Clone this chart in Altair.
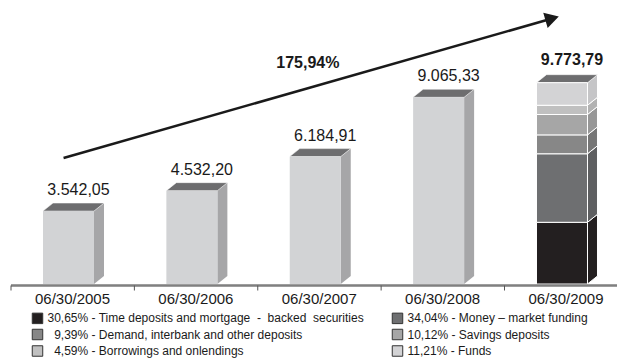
import math
import altair as alt
import pandas as pd

# ---------------- data ----------------
dates = ["06/30/2005", "06/30/2006", "06/30/2007", "06/30/2008", "06/30/2009"]
totals = [3542.05, 4532.20, 6184.91, 9065.33, 9773.79]

# composition of the 2009 bar (bottom to top)
seg_names = [
    "Time deposits and mortgage  -  backed  securities",
    "Money \u2013 market funding",
    "Demand, interbank and other deposits",
    "Savings deposits",
    "Borrowings and onlendings",
    "Funds",
]
seg_pcts = [30.65, 34.04, 9.39, 10.12, 4.59, 11.21]

# ---------------- style ----------------
seg_front = ["#231f20", "#6e6f71", "#878787", "#a6a6a6", "#c0c0c0", "#d3d3d5"]
seg_side = ["#231f20", "#5e5f61", "#767676", "#979797", "#b2b2b2", "#c5c5c7"]
BAR_FRONT, BAR_SIDE, BAR_TOP = "#d2d3d5", "#a6a6a8", "#6d6d6f"
FONT = "Liberation Sans"

# scales (pixel layout of the plot)
X_DOM, X_RNG = [-0.466, 4.46], [11, 618.75]
Y_DOM, Y_RNG = [0, 9773.79], [284, 82.7]
px_per_idx = (X_RNG[1] - X_RNG[0]) / (X_DOM[1] - X_DOM[0])
px_per_val = (Y_RNG[0] - Y_RNG[1]) / (Y_DOM[1] - Y_DOM[0])
HALF_W = 25.5 / px_per_idx       # half width of the front face
DEPTH_X = 10 / px_per_idx        # 3D depth (horizontal)
DEPTH_Y = 8 / px_per_val         # 3D depth (vertical)
TICK_SHIFT = -0.466

# annotation arrow (data space)
arrow_x = [-0.04, 3.92]
arrow_y = [6120, 12890]
growth_pos = (1.94, 10490)

X = alt.Scale(domain=X_DOM, range=X_RNG, nice=False, zero=False)
Y = alt.Scale(domain=Y_DOM, range=Y_RNG, nice=False, zero=False)


def br(v):
    s = f"{v:,.2f}"
    return s.replace(",", "X").replace(".", ",").replace("X", ".")


def pct_label(p, name):
    s = f"{p:.2f}".replace(".", ",")
    if p < 10:
        s = "\u200b\u00a0\u00a0" + s
    return f"{s}% - {name}".replace("  ", " \u00a0")


legend_labels = [pct_label(p, n) for p, n in zip(seg_pcts, seg_names)]
# legend fills column by column: put the left column first
legend_order = [0, 2, 4, 1, 3, 5]

# ---------------- build tables ----------------
segs = []
for i, t in enumerate(totals):
    if i < len(totals) - 1:
        segs.append(dict(key=f"b{i}", i=i, lo=0.0, hi=t, front=BAR_FRONT, side=BAR_SIDE,
                     stroke="transparent", name="", top=True, last=False))
    else:
        lo = 0.0
        for k, p in enumerate(seg_pcts):
            hi = lo + p / 100.0 * t
            segs.append(dict(key=f"s{k}", i=i, lo=lo, hi=hi, front=seg_front[k], side=seg_side[k],
                             stroke="white", name=legend_labels[k], top=(k == len(seg_pcts) - 1), last=True))
            lo = hi
seg_df = pd.DataFrame(segs)
seg_df["xl"] = seg_df["i"] - HALF_W
seg_df["xr"] = seg_df["i"] + HALF_W

side_rows, top_rows = [], []
for r in segs:
    side_rows.append(dict(key=r["key"], x=r["i"] + HALF_W, yt=r["hi"], yb=r["lo"], side=r["side"], stroke=r["stroke"]))
    side_rows.append(dict(key=r["key"], x=r["i"] + HALF_W + DEPTH_X, yt=r["hi"] + DEPTH_Y, yb=r["lo"] + DEPTH_Y,
                          side=r["side"], stroke=r["stroke"]))
    if r["top"]:
        top_rows.append(dict(key=r["key"], y=r["hi"], xl=r["i"] - HALF_W, xr=r["i"] + HALF_W))
        top_rows.append(dict(key=r["key"], y=r["hi"] + DEPTH_Y, xl=r["i"] - HALF_W + DEPTH_X, xr=r["i"] + HALF_W + DEPTH_X))
side_df = pd.DataFrame(side_rows)
top_df = pd.DataFrame(top_rows)

lab_df = pd.DataFrame(dict(i=list(range(len(totals))), date=dates,
                           ytop=[t + DEPTH_Y for t in totals], txt=[br(t) for t in totals],
                           tick=[k + TICK_SHIFT for k in range(len(totals))],
                           last=[k == len(totals) - 1 for k in range(len(totals))]))

arrow_df = pd.DataFrame(dict(x=arrow_x, y=arrow_y))
growth = (totals[-1] / totals[0] - 1) * 100
growth_df = pd.DataFrame(dict(x=[growth_pos[0]], y=[growth_pos[1]], txt=[f"{growth:.2f}".replace(".", ",") + "%"]))

# arrow angle in screen space
dxp = (arrow_x[1] - arrow_x[0]) * px_per_idx
dyp = (arrow_y[1] - arrow_y[0]) * px_per_val
ang = (360 - math.degrees(math.atan2(dyp, dxp))) % 360

# ---------------- layers ----------------
side = alt.Chart(side_df).mark_area(strokeWidth=1).encode(
    x=alt.X("x:Q", scale=X, axis=None),
    y=alt.Y("yt:Q", scale=Y, axis=None, stack=None),
    y2="yb:Q",
    detail="key:N",
    fill=alt.Fill("side:N", scale=None),
    stroke=alt.Stroke("stroke:N", scale=None),
)

top = alt.Chart(top_df).mark_area(orient="horizontal", color=BAR_TOP, stroke="white", strokeWidth=0.5).encode(
    y=alt.Y("y:Q", scale=Y, axis=None),
    x=alt.X("xl:Q", scale=X, axis=None, stack=None),
    x2="xr:Q",
    detail="key:N",
)

front_gray = alt.Chart(seg_df).transform_filter("!datum.last").mark_rect().encode(
    x=alt.X("xl:Q", scale=X, axis=None),
    x2="xr:Q",
    y=alt.Y("lo:Q", scale=Y, axis=None),
    y2="hi:Q",
    fill=alt.Fill("front:N", scale=None),
)

front_stack = alt.Chart(seg_df).transform_filter("datum.last").mark_rect(stroke="white", strokeWidth=1).encode(
    x=alt.X("xl:Q", scale=X, axis=None),
    x2="xr:Q",
    y=alt.Y("lo:Q", scale=Y, axis=None),
    y2="hi:Q",
    fill=alt.Fill("name:N",
                  scale=alt.Scale(domain=[legend_labels[k] for k in legend_order],
                                  range=[seg_front[k] for k in legend_order]),
                  legend=alt.Legend(orient="none", legendX=31.5, legendY=312, columns=2,
                                    columnPadding=25, rowPadding=0.5, symbolType="square",
                                    symbolSize=110, symbolStrokeColor="#333", symbolStrokeWidth=1,
                                    symbolOpacity=1, labelFont=FONT, labelFontSize=12,
                                    labelColor="#1a1a1a", labelOffset=4, title=None,
                                    padding=0, labelLimit=0)),
)

baseline = alt.Chart(lab_df).mark_rule(color="#808080", strokeWidth=1.5).encode(
    x=alt.value(11), x2=alt.value(617), y=alt.value(285.5))

ticks = alt.Chart(lab_df).mark_rule(color="#555555", strokeWidth=1).encode(
    x=alt.X("tick:Q", scale=X, axis=None), y=alt.value(285.5), y2=alt.value(290.5))

date_txt = alt.Chart(lab_df).mark_text(font=FONT, fontSize=15, color="#1a1a1a", dx=4,
                                       baseline="alphabetic").encode(
    x=alt.X("i:Q", scale=X, axis=None), y=alt.value(304), text="date:N")

val_txt = alt.Chart(lab_df).transform_filter("!datum.last").mark_text(
    font=FONT, fontSize=16, color="#1a1a1a", dx=10, dy=-8, baseline="alphabetic").encode(
    x=alt.X("i:Q", scale=X, axis=None), y=alt.Y("ytop:Q", scale=Y, axis=None), text="txt:N")

val_last = alt.Chart(lab_df).transform_filter("datum.last").mark_text(
    font=FONT, fontSize=16, fontWeight="bold", color="#1a1a1a", dx=10, dy=-10, baseline="alphabetic").encode(
    x=alt.X("i:Q", scale=X, axis=None), y=alt.Y("ytop:Q", scale=Y, axis=None), text="txt:N")

arrow_line = alt.Chart(arrow_df).mark_line(color="#1a1a1a", strokeWidth=2.5).encode(
    x=alt.X("x:Q", scale=X, axis=None), y=alt.Y("y:Q", scale=Y, axis=None))

arrow_head = alt.Chart(arrow_df.tail(1)).mark_point(
    shape="triangle-right", filled=True, size=256, angle=ang, color="#1a1a1a", opacity=1).encode(
    x=alt.X("x:Q", scale=X, axis=None), y=alt.Y("y:Q", scale=Y, axis=None))

growth_txt = alt.Chart(growth_df).mark_text(font=FONT, fontSize=16, fontWeight="bold", color="#1a1a1a",
                                            baseline="alphabetic").encode(
    x=alt.X("x:Q", scale=X, axis=None), y=alt.Y("y:Q", scale=Y, axis=None), text="txt:N")

chart = alt.layer(
    side, top, front_gray, front_stack, baseline, ticks, date_txt, val_txt, val_last,
    arrow_line, arrow_head, growth_txt
).resolve_scale(fill="independent", stroke="independent").properties(
    width=617, height=358, padding=0, background="white",
    autosize=alt.AutoSizeParams(type="none"),
).configure_view(stroke=None)

chart.save("out.html", embed_options={"renderer": "svg", "actions": False})
